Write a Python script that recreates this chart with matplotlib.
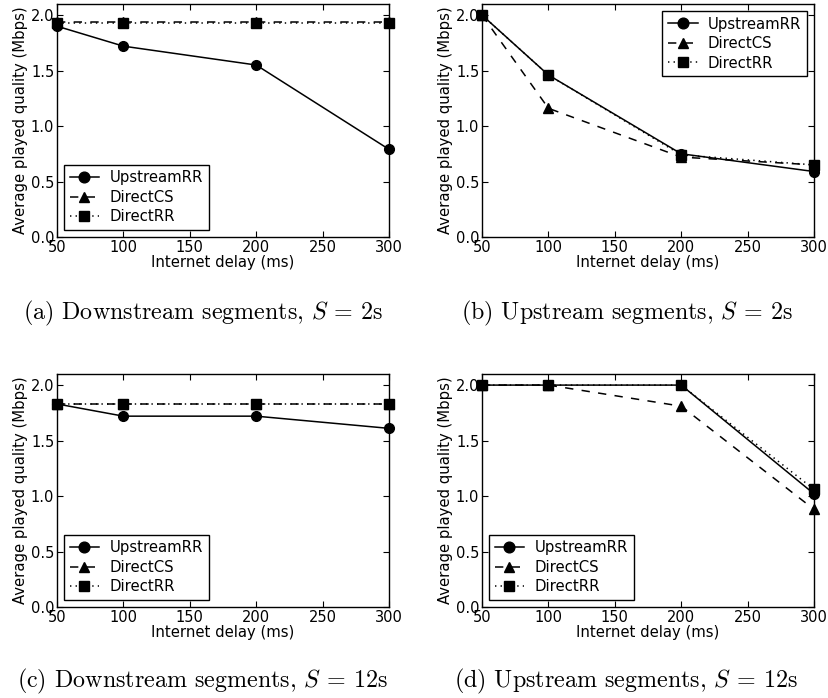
import matplotlib
matplotlib.use("Agg")
import matplotlib.pyplot as plt

plt.rcParams["font.family"] = "DejaVu Sans"
plt.rcParams["mathtext.fontset"] = "cm"
plt.rcParams["xtick.direction"] = "in"
plt.rcParams["ytick.direction"] = "in"
plt.rcParams["xtick.top"] = True
plt.rcParams["ytick.right"] = True
plt.rcParams["lines.scale_dashes"] = False

delays = [50, 100, 200, 300]
series_names = ["UpstreamRR", "DirectCS", "DirectRR"]

# panel values: UpstreamRR, DirectCS, DirectRR
down_2s = [[1.90, 1.72, 1.55, 0.79], [1.94, 1.94, 1.94, 1.94], [1.93, 1.93, 1.93, 1.93]]
up_2s = [[2.00, 1.46, 0.75, 0.59], [2.00, 1.16, 0.72, 0.65], [2.00, 1.46, 0.74, 0.65]]
down_12s = [[1.83, 1.72, 1.72, 1.61], [1.83, 1.83, 1.83, 1.83], [1.83, 1.83, 1.83, 1.83]]
up_12s = [[2.00, 2.00, 2.00, 1.02], [2.00, 2.00, 1.81, 0.88], [2.00, 2.00, 2.00, 1.06]]

captions = [
    r"(a) Downstream segments, $S$ = 2s",
    r"(b) Upstream segments, $S$ = 2s",
    r"(c) Downstream segments, $S$ = 12s",
    r"(d) Upstream segments, $S$ = 12s",
]

STYLES = [
    dict(marker="o", linestyle="-"),
    dict(marker="^", dashes=(6, 6)),
    dict(marker="s", dashes=(1, 3)),
]

W, H = 829, 698
fig = plt.figure(figsize=(W / 100, H / 100), dpi=100)

# (left, top, right, bottom) in pixels
boxes = [(57, 4, 389, 237), (482, 4, 814, 237), (57, 374, 389, 607), (482, 374, 814, 607)]
legend_locs = ["lower left", "upper right", "lower left", "lower left"]
caption_pos = [(203, 313), (627, 313), (202, 681), (626, 681)]
panels = [down_2s, up_2s, down_12s, up_12s]

for i, data in enumerate(panels):
    l, t, r, b = boxes[i]
    ax = fig.add_axes([l / W, 1 - b / H, (r - l) / W, (b - t) / H])
    for name, vals, st in zip(series_names, data, STYLES):
        ax.plot(delays, vals, color="black", linewidth=1.1, markersize=7,
                clip_on=False, label=name, **st)
    ax.set_xlim(50, 300)
    ax.set_ylim(0, 2.1)
    ax.set_xticks([50, 100, 150, 200, 250, 300])
    ax.set_yticks([0.0, 0.5, 1.0, 1.5, 2.0])
    ax.set_yticklabels(["0.0", "0.5", "1.0", "1.5", "2.0"])
    ax.tick_params(labelsize=10.5, length=4, width=0.8, pad=2)
    ax.set_xlabel("Internet delay (ms)", fontsize=10.7, labelpad=0)
    ax.set_ylabel("Average played quality (Mbps)", fontsize=10.7, labelpad=2)
    for sp in ax.spines.values():
        sp.set_linewidth(1.0)
    leg = ax.legend(loc=legend_locs[i], numpoints=1, fontsize=10.7, fancybox=False,
                    framealpha=1, edgecolor="black", handlelength=2.0,
                    handletextpad=0.7, borderaxespad=0.45, labelspacing=0.3,
                    markerscale=1.1)
    leg.get_frame().set_linewidth(1.0)
    cx, cy = caption_pos[i]
    fig.text(cx / W, 1 - cy / H, captions[i], fontsize=17.3, family="cmr10",
             ha="center", va="center")

fig.savefig("out.png", dpi=100)
